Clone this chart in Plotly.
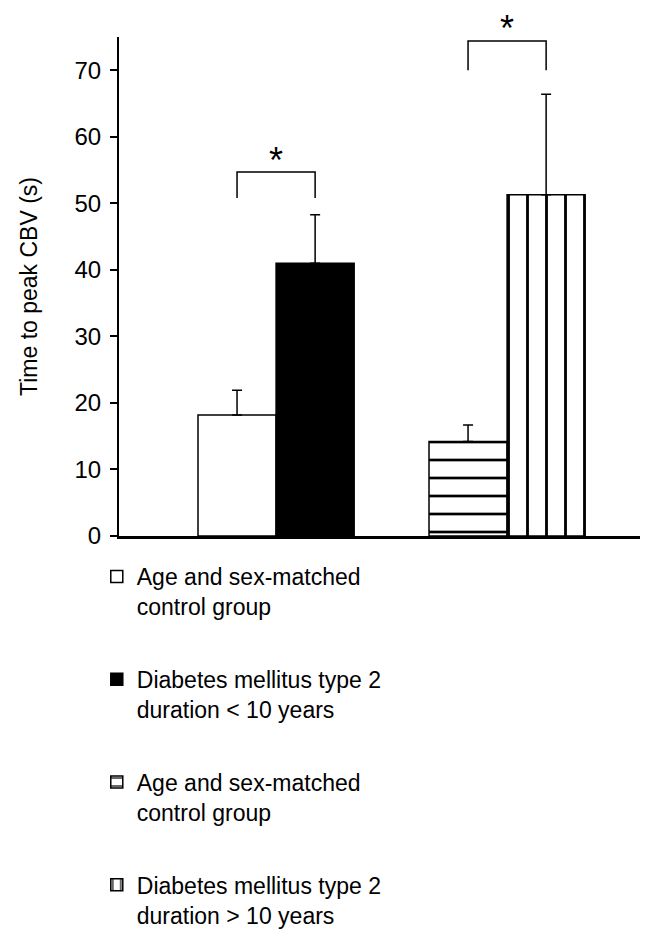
import plotly.graph_objects as go

# ---- data ----
groups = ["DM < 10 years", "DM > 10 years"]
series_names = [
    "Age and sex-matched<br>control group",
    "Diabetes mellitus type 2<br>duration < 10 years",
    "Age and sex-matched<br>control group",
    "Diabetes mellitus type 2<br>duration > 10 years",
]
series_group = [0, 0, 1, 1]
series_side = [-1, 0, -1, 0]          # left / right bar within group
means = [18.2, 41.0, 14.2, 51.3]
sd_upper = [3.7, 7.3, 2.5, 15.1]
fill_colors = ["white", "black", "white", "white"]
patterns = ["", "", "-", "|"]
pattern_sizes = [8, 8, 18, 19]
y_ticks = [0, 10, 20, 30, 40, 50, 60, 70]
y_title = "Time to peak CBV (s)"
sig_labels = ["*", "*"]
sig_bracket_top = [54.7, 74.4]
sig_bracket_leg = [50.8, 70.0]

# ---- layout constants (page body has an 8px margin) ----
W, H = 640, 931
L, R, T, B = 111, 0, 29, 403
BW = 0.338   # bar width in category units
FONT = "Liberation Sans, Arial, Helvetica, sans-serif"

fig = go.Figure()
for i in range(4):
    marker = dict(color=fill_colors[i], line=dict(color="black", width=1.5))
    if patterns[i]:
        marker["pattern"] = dict(shape=patterns[i], size=pattern_sizes[i], solidity=0.15,
                                 fgcolor="black", bgcolor="white", fillmode="replace")
    fig.add_trace(go.Bar(
        x=[groups[series_group[i]]], y=[means[i]],
        offset=series_side[i] * BW, width=BW,
        marker=marker, name=series_names[i], legendgroup=f"g{i}",
        error_y=dict(type="data", symmetric=False, array=[sd_upper[i]], arrayminus=[0],
                     color="black", thickness=1.5, width=5),
    ))

# significance brackets
for k, g in enumerate(groups):
    x0 = k - BW / 2
    x1 = k + BW / 2
    fig.add_shape(type="path", xref="x", yref="y",
                  path=f"M {x0},{sig_bracket_leg[k]} L {x0},{sig_bracket_top[k]} "
                       f"L {x1},{sig_bracket_top[k]} L {x1},{sig_bracket_leg[k]}",
                  line=dict(color="black", width=1.5))
    fig.add_annotation(x=k, y=sig_bracket_top[k], xref="x", yref="y", text=sig_labels[k],
                       showarrow=False, yanchor="middle", yshift=12,
                       font=dict(family=FONT, size=36, color="black"))

fig.update_layout(
    width=W, height=H, margin=dict(l=L, r=R, t=T, b=B, autoexpand=False),
    paper_bgcolor="white", plot_bgcolor="white",
    barmode="overlay", showlegend=True,
    font=dict(family=FONT, color="black"),
    legend=dict(x=-0.042, xanchor="left", y=-0.038, yanchor="top",
                traceorder="grouped", tracegroupgap=40, valign="top",
                font=dict(family=FONT, size=23, color="black"),
                bgcolor="rgba(0,0,0,0)", borderwidth=0),
    xaxis=dict(type="category", range=[-0.680, 1.610], showticklabels=False,
               ticks="", showgrid=False, zeroline=False, showline=True,
               linecolor="black", linewidth=2.5),
    yaxis=dict(range=[0, 75], tickvals=y_ticks, ticks="outside", ticklen=7,
               tickwidth=1.5, tickcolor="black", showgrid=False, zeroline=False,
               showline=True, linecolor="black", linewidth=2,
               tickfont=dict(family=FONT, size=24, color="black"),
               ticklabelstandoff=4,
               title=dict(text=y_title, standoff=30,
                          font=dict(family=FONT, size=23, color="black"))),
)

fig.write_html("out.html")
